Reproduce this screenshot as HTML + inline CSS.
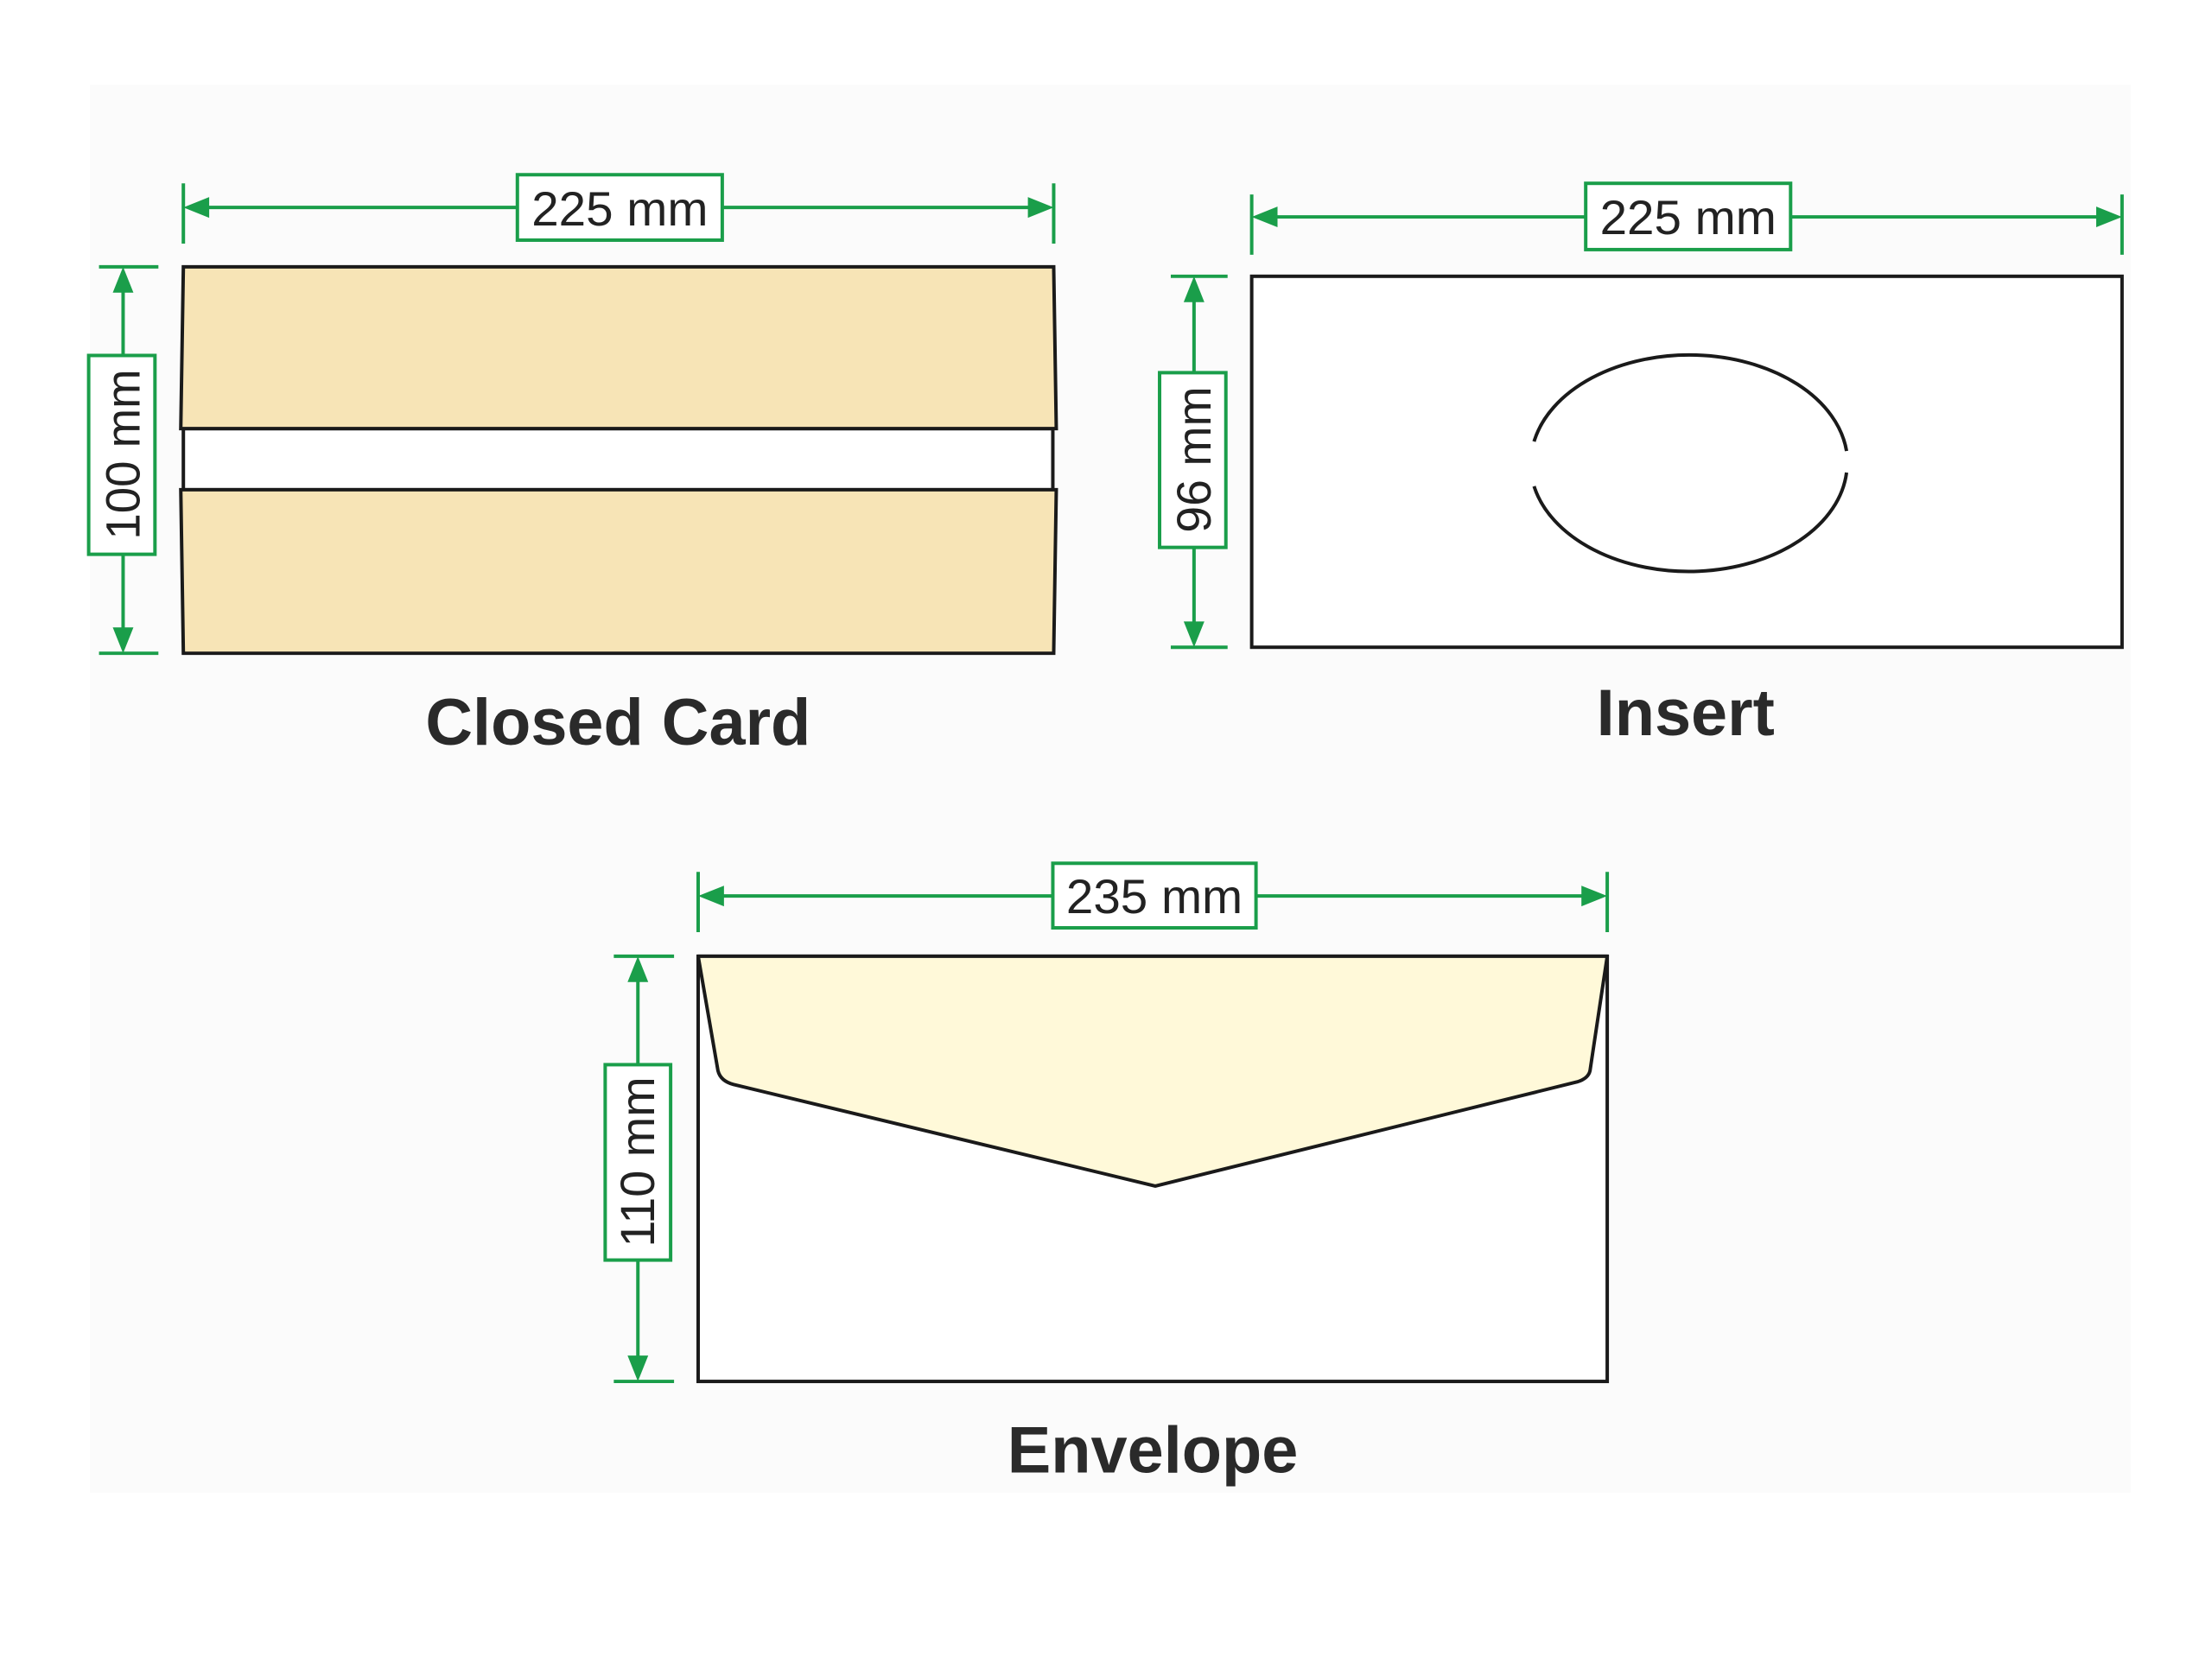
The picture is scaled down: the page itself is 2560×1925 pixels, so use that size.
<!DOCTYPE html>
<html><head><style>html,body{margin:0;padding:0;background:#fff}</style></head><body>
<svg width="2560" height="1920" viewBox="0 0 2560 1920" xmlns="http://www.w3.org/2000/svg" font-family="Liberation Sans, Arial, sans-serif">
<rect x="0" y="0" width="2560" height="1920" fill="#fff"/>
<rect x="104" y="98" width="2362" height="1630" fill="#fbfbfb"/>
<g transform="scale(0.9963)">
<g stroke="#1a9e4a" stroke-width="4" fill="none">
<line x1="213" y1="213" x2="213" y2="283"/><line x1="1224" y1="213" x2="1224" y2="283"/>
<line x1="225" y1="241" x2="601" y2="241"/><line x1="839" y1="241" x2="1212" y2="241"/>
<line x1="115" y1="310" x2="184" y2="310"/><line x1="115" y1="759" x2="184" y2="759"/>
<line x1="143" y1="322" x2="143" y2="413"/><line x1="143" y1="644" x2="143" y2="747"/>
<line x1="1454" y1="226" x2="1454" y2="296"/><line x1="2465" y1="226" x2="2465" y2="296"/>
<line x1="1466" y1="252" x2="1842" y2="252"/><line x1="2080" y1="252" x2="2453" y2="252"/>
<line x1="1360" y1="321" x2="1426" y2="321"/><line x1="1360" y1="752" x2="1426" y2="752"/>
<line x1="1387" y1="333" x2="1387" y2="433"/><line x1="1387" y1="636" x2="1387" y2="740"/>
<line x1="811" y1="1013" x2="811" y2="1083"/><line x1="1867" y1="1013" x2="1867" y2="1083"/>
<line x1="823" y1="1041" x2="1223" y2="1041"/><line x1="1459" y1="1041" x2="1855" y2="1041"/>
<line x1="713" y1="1111" x2="783" y2="1111"/><line x1="713" y1="1605" x2="783" y2="1605"/>
<line x1="741" y1="1123" x2="741" y2="1237"/><line x1="741" y1="1464" x2="741" y2="1593"/>
</g>
<g fill="#1a9e4a">
<polygon points="213,241 243,229 243,253"/><polygon points="1224,241 1194,229 1194,253"/>
<polygon points="143,310 131,340 155,340"/><polygon points="143,759 131,729 155,729"/>
<polygon points="1454,252 1484,240 1484,264"/><polygon points="2465,252 2435,240 2435,264"/>
<polygon points="1387,321 1375,351 1399,351"/><polygon points="1387,752 1375,722 1399,722"/>
<polygon points="811,1041 841,1029 841,1053"/><polygon points="1867,1041 1837,1029 1837,1053"/>
<polygon points="741,1111 729,1141 753,1141"/><polygon points="741,1605 729,1575 753,1575"/>
</g>
<g fill="#fff" stroke="#1a9e4a" stroke-width="4">
<rect x="601" y="203" width="238" height="76"/>
<rect x="103" y="413" width="77" height="231"/>
<rect x="1842" y="213" width="238" height="77"/>
<rect x="1347" y="433" width="77" height="203"/>
<rect x="1223" y="1003" width="236" height="75"/>
<rect x="703" y="1237" width="76" height="227"/>
</g>
<g fill="#222" font-size="56" text-anchor="middle">
<text x="720" y="262" textLength="205" lengthAdjust="spacingAndGlyphs">225 mm</text>
<text x="1961" y="272" textLength="205" lengthAdjust="spacingAndGlyphs">225 mm</text>
<text x="1341" y="1061" textLength="205" lengthAdjust="spacingAndGlyphs">235 mm</text>
<text transform="translate(162,528) rotate(-90)" textLength="198" lengthAdjust="spacingAndGlyphs">100 mm</text>
<text transform="translate(1406,534) rotate(-90)" textLength="170" lengthAdjust="spacingAndGlyphs">96 mm</text>
<text transform="translate(760,1350) rotate(-90)" textLength="198" lengthAdjust="spacingAndGlyphs">110 mm</text>
</g>
<g stroke="#1a1a1a" stroke-width="4">
<rect x="213" y="498" width="1010" height="71" fill="#fff"/>
<polygon points="213,310 1224,310 1227,498 210,498" fill="#f7e4b6"/>
<polygon points="210,569 1227,569 1224,759 213,759" fill="#f7e4b6"/>
<rect x="1454" y="321" width="1011" height="431" fill="#fff"/>
<path d="M1782,513 A184,126 0 0 1 2145,524" fill="none"/>
<path d="M1782,565 A184,126 0 0 0 2145,549" fill="none"/>
<rect x="811" y="1111" width="1056" height="494" fill="#fff"/>
<path d="M811,1111 L834,1244 Q837,1256 852,1260 L1342,1378 L1832,1257 Q1845,1253 1847,1244 L1867,1111 Z" fill="#fff9d9" stroke-linejoin="round"/>
</g>
<g fill="#2a2a2a" font-size="76" font-weight="bold" text-anchor="middle">
<text x="718" y="865">Closed Card</text>
<text x="1958" y="854">Insert</text>
<text x="1339" y="1711">Envelope</text>
</g>
</g>
</svg>
</body></html>
